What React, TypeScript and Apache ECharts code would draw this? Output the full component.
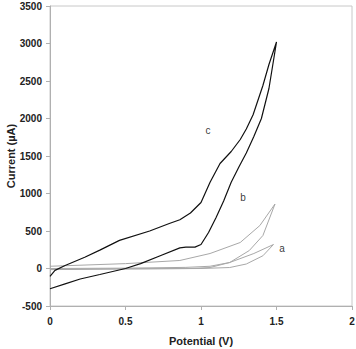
import React, { useEffect, useRef } from "react";
import * as echarts from "echarts";

// Black loop (curve c / b region): forward branch then reverse branch
const blackForwardX = [0, 0.1, 0.2, 0.33, 0.5, 0.6, 0.73, 0.86, 0.9, 0.96, 1.0, 1.05, 1.1, 1.15, 1.2, 1.25, 1.3, 1.35, 1.4, 1.45, 1.5];
const blackForwardY = [-270, -205, -140, -80, 0, 65, 170, 275, 285, 285, 320, 480, 680, 900, 1150, 1350, 1540, 1760, 2000, 2400, 3020];
const blackReverseX = [1.5, 1.45, 1.41, 1.345, 1.3, 1.26, 1.2, 1.126, 1.06, 1.0, 0.93, 0.86, 0.79, 0.66, 0.46, 0.33, 0.23, 0.1, 0.033, 0];
const blackReverseY = [3020, 2720, 2440, 2050, 1860, 1720, 1560, 1400, 1150, 880, 740, 650, 600, 500, 375, 245, 150, 40, -25, -105];

// Gray loop reaching ~850 at 1.5 V
const grayBForwardX = [0, 0.5, 0.93, 1.06, 1.19, 1.32, 1.41, 1.49];
const grayBForwardY = [-10, -5, 0, 13, 80, 240, 440, 860];
const grayBReverseX = [1.49, 1.39, 1.26, 1.06, 0.86, 0.5, 0];
const grayBReverseY = [860, 573, 347, 200, 107, 65, 30];

// Gray loop a reaching ~320 at 1.5 V
const grayAForwardX = [0, 0.5, 1.0, 1.19, 1.3, 1.41, 1.48];
const grayAForwardY = [-15, -5, 0, 13, 60, 170, 320];
const grayAReverseX = [1.48, 1.35, 1.19, 1.06, 0.9, 0.5, 0];
const grayAReverseY = [320, 200, 80, 30, 15, 5, 0];

// Curve labels
const labelNames = ["c", "b", "a"];
const labelX = [1.046, 1.278, 1.536];
const labelY = [1840, 947, 267];

const xTicks = [0, 0.5, 1, 1.5, 2];
const yTicks = [-500, 0, 500, 1000, 1500, 2000, 2500, 3000, 3500];

function zipLoop(fx: number[], fy: number[], rx: number[], ry: number[]) {
  const out: number[][] = [];
  fx.forEach((x, i) => out.push([x, fy[i]]));
  rx.forEach((x, i) => { if (i > 0) out.push([x, ry[i]]); });
  return out;
}

export default function App() {
  const ref = useRef<HTMLDivElement>(null);
  useEffect(() => {
    if (!ref.current) return;
    const chart = echarts.init(ref.current, undefined, { renderer: "svg" });
    const font = "'Liberation Sans', Arial, sans-serif";
    const lineBase = { type: "line", showSymbol: false, smooth: false, symbol: "none" };
    chart.setOption({
      animation: false,
      backgroundColor: "#fff",
      grid: {
        left: 50, right: 4, top: 6, bottom: 43,
        containLabel: false, outerBoundsMode: "none",
        show: true, borderColor: "#c8c8c8", borderWidth: 1, backgroundColor: "transparent",
      },
      xAxis: {
        type: "value",
        min: xTicks[0], max: xTicks[xTicks.length - 1], interval: 0.5,
        name: "Potential (V)", nameLocation: "middle", nameGap: 29, nameMoveOverlap: false,
        nameTextStyle: { fontFamily: font, fontWeight: "bold", fontSize: 11, color: "#222" },
        axisLine: { onZero: false, lineStyle: { color: "#b0b0b0", width: 1 } },
        axisTick: { show: true, length: 4, lineStyle: { color: "#b0b0b0" } },
        axisLabel: { fontFamily: font, fontWeight: "bold", fontSize: 10, color: "#222", margin: 10, formatter: (v: number) => String(v) },
        splitLine: { show: false },
      },
      yAxis: {
        type: "value",
        min: yTicks[0], max: yTicks[yTicks.length - 1], interval: 500,
        name: "Current (µA)", nameLocation: "middle", nameGap: 34, nameMoveOverlap: false,
        nameTextStyle: { fontFamily: font, fontWeight: "bold", fontSize: 11, color: "#222" },
        axisLine: { show: true, onZero: false, lineStyle: { color: "#b0b0b0", width: 1 } },
        axisTick: { show: true, length: 4, lineStyle: { color: "#b0b0b0" } },
        axisLabel: { fontFamily: font, fontWeight: "bold", fontSize: 10, color: "#222", margin: 8, formatter: (v: number) => String(v) },
        splitLine: { show: false },
      },
      series: [
        {
          ...lineBase, name: "a",
          data: zipLoop(grayAForwardX, grayAForwardY, grayAReverseX, grayAReverseY),
          lineStyle: { color: "#a8a8a8", width: 1 },
        },
        {
          ...lineBase, name: "b",
          data: zipLoop(grayBForwardX, grayBForwardY, grayBReverseX, grayBReverseY),
          lineStyle: { color: "#a8a8a8", width: 1 },
        },
        {
          ...lineBase, name: "c",
          data: zipLoop(blackForwardX, blackForwardY, blackReverseX, blackReverseY),
          lineStyle: { color: "#111", width: 1.2 },
        },
        {
          type: "scatter", symbolSize: 1, silent: true,
          itemStyle: { color: "rgba(0,0,0,0)" },
          data: labelNames.map((n, i) => ({ value: [labelX[i], labelY[i]], name: n })),
          label: {
            show: true, position: "inside", formatter: "{b}",
            fontFamily: font, fontSize: 10, color: "#000", textBorderWidth: 0,
          },
        },
      ],
    });
    return () => chart.dispose();
  }, []);
  return (
    <div
      ref={ref}
      style={{ position: "absolute", left: 0, top: 0, width: 356, height: 349 }}
    />
  );
}
